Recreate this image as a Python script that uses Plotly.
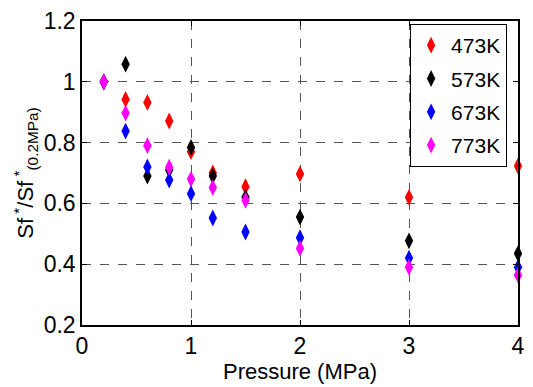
import plotly.graph_objects as go

# Pressure points (MPa) shared by every temperature series
pressure = [0.2, 0.4, 0.6, 0.8, 1.0, 1.2, 1.5, 2.0, 3.0, 4.0]

# Normalised Sf* relative to 0.2 MPa, per temperature
sf_473 = [1.00, 0.942, 0.932, 0.871, 0.770, 0.700, 0.655, 0.697, 0.620, 0.723]
sf_573 = [1.00, 1.058, 0.690, 0.710, 0.784, 0.690, 0.620, 0.555, 0.477, 0.435]
sf_673 = [1.00, 0.838, 0.720, 0.677, 0.632, 0.552, 0.506, 0.487, 0.420, 0.390]
sf_773 = [1.00, 0.897, 0.790, 0.719, 0.680, 0.652, 0.610, 0.452, 0.390, 0.364]

series_names = ["473K", "573K", "673K", "773K"]
series_colors = ["#ff0000", "#000000", "#0000ff", "#ff00ff"]
series_values = [sf_473, sf_573, sf_673, sf_773]

x_ticks = [0, 1, 2, 3, 4]
y_ticks = [0.2, 0.4, 0.6, 0.8, 1.0, 1.2]
y_tick_text = ["0.2", "0.4", "0.6", "0.8", "1", "1.2"]

FONT = "Liberation Sans, Arial, sans-serif"

fig = go.Figure()
for name, color, vals in zip(series_names, series_colors, series_values):
    fig.add_trace(go.Scatter(
        x=pressure, y=vals, mode="markers", name=name, legendgroup=name,
        marker=dict(symbol="diamond-tall", size=12, color=color,
                    line=dict(width=0)),
        cliponaxis=False,
    ))

axis_common = dict(
    showline=True, linecolor="black", linewidth=1.5, mirror="ticks",
    ticks="inside", ticklen=5, tickcolor="black",
    showgrid=True, gridcolor="#555555", griddash="dash", gridwidth=1,
    zeroline=False,
    tickfont=dict(family=FONT, size=23, color="black"),
)

fig.update_layout(
    width=533, height=387,
    margin=dict(l=82, r=8, t=15, b=62),
    paper_bgcolor="white", plot_bgcolor="white",
    showlegend=True,
    legend=dict(
        x=0.975, y=0.99, xanchor="right", yanchor="top",
        bgcolor="white", bordercolor="black", borderwidth=1,
        font=dict(family=FONT, size=21, color="black"),
        itemsizing="constant", itemwidth=30, tracegroupgap=3,
    ),
    xaxis=dict(
        range=[0, 4], tickvals=x_ticks,
        title=dict(text="Pressure (MPa)", standoff=2,
                   font=dict(family=FONT, size=22, color="black")),
        **axis_common,
    ),
    yaxis=dict(
        range=[0.2, 1.2], tickvals=y_ticks, ticktext=y_tick_text,
        title=dict(text="Sf<sup> *</sup>/Sf<sup> *</sup><sub>(0.2MPa)</sub>",
                   standoff=4,
                   font=dict(family=FONT, size=22, color="black")),
        **axis_common,
    ),
)

fig.write_html("out.html")
